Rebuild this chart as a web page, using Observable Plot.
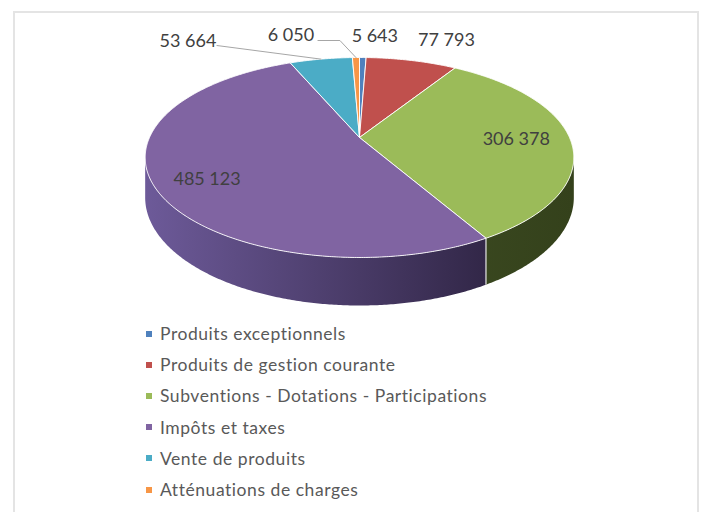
<!DOCTYPE html>
<html>
<head>
<meta charset="utf-8">
<script src="https://cdn.jsdelivr.net/npm/d3@7"></script>
<script src="https://cdn.jsdelivr.net/npm/@observablehq/plot@0.6"></script>
<style>
  html, body { margin: 0; padding: 0; background: #fff; }
  #wrap { position: relative; width: 706px; height: 512px; overflow: hidden; font-family: Lato, "Noto Sans", sans-serif; }
  #frame { position: absolute; left: 13px; top: 11px; width: 686px; height: 520px; border: 2px solid #e4e4e4; box-sizing: border-box; }
  #chart { position: absolute; left: 0; top: 0; }
  #legend { position: absolute; left: 146px; top: 318px; }
  .row { display: flex; align-items: center; height: 31.2px; font-size: 17.5px; letter-spacing: 0.55px; color: #595959; }
  .sw { width: 6px; height: 6px; margin-right: 8px; flex: none; }
</style>
</head>
<body>
<div id="wrap">
  <div id="frame"></div>
  <div id="chart"></div>
  <div id="legend"></div>
</div>
<script>
// ---- data ----
const categories = ["Produits exceptionnels", "Produits de gestion courante", "Subventions - Dotations - Participations", "Impôts et taxes", "Vente de produits", "Atténuations de charges"];
const values = [5643, 77793, 306378, 485123, 53664, 6050];
const colors = ["#4F81BD", "#C0504D", "#9BBB59", "#8064A2", "#4BACC6", "#F79646"];
const sideLight = ["#34557e", "#833431", "#4a5a2c", "#6d5a99", "#31788a", "#a66126"];
const sideDark  = ["#1f3550", "#521e1c", "#34411b", "#231a33", "#1e4853", "#6e3e15"];

// ---- layout (pixel offsets of labels / leaders relative to slice edge) ----
const labelOffset = [[12, -21], [35, -20], [-54, 0], [54, -5.5], [-133, -17.6], [-65, -22]];
const leaders = [null, null, null, null, [[-104, -13.6], [0, 0]], [[-38, -17], [-16, -17], [0, 0]]];

(function () {
const fr = d3.formatLocale({decimal: ",", thousands: " ", grouping: [3], currency: ["", " €"]});
const fmt = fr.format(",d");

const k = 0.2;   // perspective
const D = 0.4;   // depth (y units)
const PX = 210, PY = 96; // px per unit (matches scale ranges below)
const proj = (th, r = 1) => { const s = 1 / (1 + k * r * Math.cos(th)); return [r * Math.sin(th) * s, -r * Math.cos(th) * s]; };
const below = (th) => { const [u, v] = proj(th); return [u, v + D / (1 + k * Math.cos(th))]; };

const arcs = d3.pie().sort(null).value(d => d)(values);
const deg = Math.PI / 180;
const thA = Math.acos(-k), thB = 2 * Math.PI - Math.acos(-k);

// top faces
const topPts = [];
arcs.forEach((a, i) => {
  const n = Math.max(2, Math.ceil((a.endAngle - a.startAngle) / (0.5 * deg)));
  topPts.push({id: i, x: 0, y: 0, color: colors[i]});
  for (let j = 0; j <= n; j++) {
    const t = a.startAngle + (a.endAngle - a.startAngle) * j / n;
    const [x, y] = proj(t);
    topPts.push({id: i, x, y, color: colors[i]});
  }
  topPts.push({id: i, x: 0, y: 0, color: colors[i]});
});

// side walls (one polygon per visible slice, filled by a horizontal gradient)
const side = [];
const seams = [];
arcs.forEach((a, i) => {
  const t0 = Math.max(a.startAngle, thA), t1 = Math.min(a.endAngle, thB);
  if (t1 <= t0) return;
  const n = Math.max(2, Math.ceil((t1 - t0) / (0.5 * deg)));
  const ts = d3.range(n + 1).map(j => t0 + (t1 - t0) * j / n);
  const pts = [...ts.map(t => proj(t)), ...ts.slice().reverse().map(t => below(t))];
  pts.push(pts[0]);
  pts.forEach(([x, y]) => side.push({id: i, x, y, color: `url(#side-grad-${i})`}));
  if (a.startAngle > thA && a.startAngle < thB) {
    const [x1, y1] = proj(a.startAngle), [x2, y2] = below(a.startAngle);
    seams.push({x1, y1, x2, y2});
  }
});

// labels
const labels = arcs.map((a, i) => {
  const m = (a.startAngle + a.endAngle) / 2;
  const [ex, ey] = proj(m);
  return {x: ex + labelOffset[i][0] / PX, y: ey + labelOffset[i][1] / PY, text: fmt(values[i]), ex, ey};
});
const leaderPts = [];
labels.forEach((l, i) => {
  if (!leaders[i]) return;
  leaders[i].forEach(([dx, dy]) => leaderPts.push({id: i, x: l.ex + dx / PX, y: l.ey + dy / PY}));
});

const plot = Plot.plot({
  width: 706,
  height: 316,
  margin: 0,
  style: {background: "transparent", fontFamily: "Lato, 'Noto Sans', sans-serif"},
  x: {domain: [-1, 1], range: [149, 569], axis: null},
  y: {domain: [-1, 1], range: [41, 233], axis: null},
  color: {type: "identity"},
  marks: [
    Plot.line(side, {x: "x", y: "y", z: "id", fill: "color", stroke: "none", curve: "linear"}),
    Plot.link(seams, {x1: "x1", y1: "y1", x2: "x2", y2: "y2", stroke: "#e6e6e6", strokeWidth: 1.2}),
    Plot.line(topPts, {x: "x", y: "y", z: "id", fill: "color", stroke: "#ffffff", strokeWidth: 1, strokeOpacity: 0.9, curve: "linear"}),
    Plot.line(leaderPts, {x: "x", y: "y", z: "id", stroke: "#a6a6a6", strokeWidth: 1, curve: "linear"}),
    Plot.text(labels, {x: "x", y: "y", text: "text", fill: "#404040", fontSize: 18, textAnchor: "middle"})
  ]
});

// gradients for the side walls, spanning the pie's horizontal extent through the x scale
const xs = plot.scale("x");
const gx0 = xs.apply(-1.02), gx1 = xs.apply(1.02);
const defs = d3.select(plot).insert("defs", ":first-child");
colors.forEach((c, i) => {
  const g = defs.append("linearGradient").attr("id", `side-grad-${i}`)
    .attr("gradientUnits", "userSpaceOnUse").attr("x1", gx0).attr("x2", gx1).attr("y1", 0).attr("y2", 0);
  g.append("stop").attr("offset", 0).attr("stop-color", sideLight[i]);
  g.append("stop").attr("offset", 1).attr("stop-color", sideDark[i]);
});
document.getElementById("chart").appendChild(plot);

// legend
const lg = document.getElementById("legend");
categories.forEach((c, i) => {
  const row = document.createElement("div");
  row.className = "row";
  const sw = document.createElement("span");
  sw.className = "sw";
  sw.style.background = colors[i];
  const tx = document.createElement("span");
  tx.textContent = c;
  row.appendChild(sw); row.appendChild(tx);
  lg.appendChild(row);
});
})();
</script>
</body>
</html>
